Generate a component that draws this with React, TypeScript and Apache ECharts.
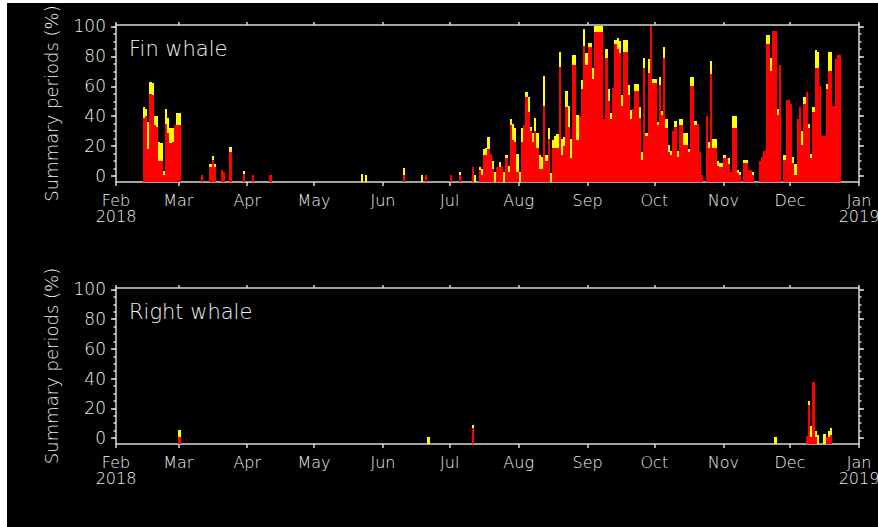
import React, { useEffect, useRef } from "react";
import * as echarts from "echarts";

// Day index counted from 1 Feb 2018 (day 0) to 1 Jan 2019 (day 334)
const monthTicks = [0, 28, 59, 89, 120, 150, 181, 212, 242, 273, 303, 334];
const monthLabels = ["Feb\n2018", "Mar", "Apr", "May", "Jun", "Jul", "Aug", "Sep", "Oct", "Nov", "Dec", "Jan\n2019"];
const yMajorTicks = [0, 20, 40, 60, 80, 100];
const yMinorTicks = [0, 5, 10, 15, 20, 25, 30, 35, 40, 45, 50, 55, 60, 65, 70, 75, 80, 85, 90, 95, 100];
const panelTitles = ["Fin whale", "Right whale"];
const yTitle = "Summary periods (%)";

// Fin whale: day index, red part (%), yellow part (%)
const finDay = [
  12, 13, 14, 15, 16, 17, 18, 19, 20, 21, 22, 23, 24, 25, 26, 27,
  28, 38, 42, 43, 44, 47, 48, 51, 57,
  61, 69,
  110, 112,
  129, 137, 139,
  150, 154, 160, 161, 163, 164, 165, 166, 167, 168, 169, 170, 171, 172, 173, 174, 175, 176, 177, 178, 179, 180,
  181, 182, 183, 184, 185, 186, 187, 188, 189, 190, 191, 192, 193, 194, 195, 196, 197, 198, 199, 200, 201, 202, 203, 204, 205, 206, 207, 208, 209, 210, 211,
  212, 213, 214, 215, 216, 217, 218, 219, 220, 221, 222, 223, 224, 225, 226, 227, 228, 229, 230, 231, 232, 233, 234, 235, 236, 237, 238, 239, 240, 241,
  242, 243, 244, 245, 246, 247, 248, 249, 250, 251, 252, 253, 254, 255, 256, 257, 258, 259, 260, 261, 262, 263, 265, 266, 267, 268, 269, 270, 271, 272,
  273, 274, 275, 276, 277, 278, 279, 280, 282, 283, 284, 285, 286, 289, 290, 291, 292, 293, 294, 295, 296, 297, 298, 300, 301, 302,
  303, 304, 305, 306, 307, 308, 309, 310, 311, 312, 313, 314, 315, 316, 317, 318, 319, 320, 321, 322, 323, 324, 325,
];
const finRed = [
  39, 40, 18, 55, 54, 34, 33, 10, 10, 0.5, 35, 29, 22, 23, 34, 34,
  34, 1, 6, 11, 6, 4, 3, 16, 1.5,
  1, 1,
  0, 0,
  0.5, 0, 1,
  0.5, 0.5, 6, 0, 4, 0.5, 14, 14, 18, 15, 5, 0, 6, 6, 7, 0, 12, 3, 34, 24, 23, 3,
  0, 23, 34, 53, 43, 30, 23, 30, 19, 5, 5, 47, 10, 25, 0, 19, 19, 19, 73, 14, 20, 46, 33, 12, 74, 74, 24, 40, 58, 87, 74,
  86, 86, 65, 96, 96, 96, 96, 38, 79, 50, 38, 59, 88, 85, 82, 47, 83, 83, 54, 38, 45, 57, 57, 39, 11, 72, 27, 69, 100, 62,
  62, 34, 61, 41, 79, 32, 16, 14, 30, 33, 13, 34, 34, 21, 21, 16, 60, 60, 34, 35, 16, 0.5, 40, 19, 68, 19, 19, 7, 6, 6,
  12, 12, 8, 3, 32, 32, 2, 1, 9, 9, 4, 4, 0.5, 10, 13, 17, 88, 88, 70, 97, 97, 41, 74, 11, 51, 51,
  48, 9, 1, 38, 46, 21, 48, 56, 32, 12, 43, 72, 72, 60, 27, 27, 58, 70, 70, 47, 78, 81, 81,
];
const finYellow = [
  7, 5, 18, 8, 8, 6, 7, 13, 12, 3, 10, 10, 10, 9, 0, 8,
  8, 0, 2, 2.5, 2, 0, 0, 3.5, 2,
  0, 0,
  1.5, 0.5,
  5, 0.5, 0,
  0, 2, 0, 1, 2, 4, 4, 5, 8, 0, 5, 3, 0, 3.5, 0, 3, 2, 4, 4, 11, 9, 12,
  3, 9, 0, 3, 10, 3, 6, 9, 10, 9, 8, 20, 4, 7, 2, 5, 8, 9, 10, 11, 6, 11, 14, 13, 7, 7, 17, 0, 6, 11, 8,
  3, 3, 7, 4, 4, 4, 4, 0, 6, 8, 4, 0, 3, 7, 8, 7, 8, 8, 7, 6, 0, 4.5, 4.5, 7, 5, 7, 2, 9, 0, 3,
  3, 2, 5, 2.5, 7, 6, 5, 3, 0, 4, 3.5, 4, 4, 8, 8, 2, 6, 6, 3, 0, 0, 0, 0, 4, 9, 6, 6, 3, 2.5, 2.5,
  2, 0, 4, 0, 8, 8, 2, 1.5, 2, 2, 0, 0, 2, 0, 0, 0, 6, 6, 9, 0, 0, 4, 0, 3, 0, 0,
  0, 4, 7, 0, 0, 9, 5, 0, 2.5, 3, 3, 12, 11, 0, 0, 0, 3.5, 13, 13, 0, 0, 0, 0,
];

// Right whale: day index, red part (%), yellow part (%)
const rightDay = [28, 140, 160, 296, 310, 311, 312, 313, 314, 315, 318, 319, 320, 321];
const rightRed = [0.5, 0, 7, 0, 1.5, 22, 1, 38, 0.5, 0, 0, 1, 0.5, 2];
const rightYellow = [5, 0.5, 1.5, 0.5, 0, 3, 7, 0, 4, 2, 3, 0, 4.5, 4.5];

const Y_MIN = -4;
const Y_MAX = 101;
const DAY_MIN = 0;
const DAY_MAX = 334;

const FG = "#d8d8d8";
const TXT = "#f0f0f0";
const FONT = "DejaVu Sans";

export default function App() {
  const ref = useRef<HTMLDivElement>(null);

  useEffect(() => {
    if (!ref.current) return;
    const chart = echarts.init(ref.current, undefined, { renderer: "svg" });

    const grids = [
      { left: 109, top: 22, width: 743, height: 157 },
      { left: 109, top: 285, width: 743, height: 156 },
    ];

    const xAxes: any[] = [];
    const yAxes: any[] = [];
    const line = { show: true, onZero: false, lineStyle: { color: FG, width: 1.5 } };

    grids.forEach((_, gi) => {
      const xBase = {
        gridIndex: gi,
        type: "value",
        min: DAY_MIN,
        max: DAY_MAX,
        splitLine: { show: false },
        axisLine: line,
      };
      xAxes.push({
        ...xBase,
        position: "bottom",
        axisTick: { show: true, inside: false, length: 4, customValues: monthTicks, lineStyle: { color: FG, width: 1.5 } },
        axisLabel: {
          show: true,
          customValues: monthTicks,
          formatter: (v: number) => {
            const i = monthTicks.indexOf(v);
            return i >= 0 ? monthLabels[i] : "";
          },
          margin: 10,
          color: TXT,
          fontFamily: FONT,
          fontWeight: 200,
          fontSize: 16,
          lineHeight: 16,
        },
      });
      xAxes.push({
        ...xBase,
        position: "top",
        axisTick: { show: true, inside: false, length: 3, customValues: monthTicks, lineStyle: { color: FG, width: 1.5 } },
        axisLabel: { show: false },
      });

      const yBase = {
        gridIndex: gi,
        type: "value",
        min: Y_MIN,
        max: Y_MAX,
        splitLine: { show: false },
      };
      yAxes.push({
        ...yBase,
        position: "left",
        name: yTitle,
        nameLocation: "middle",
        nameRotate: 90,
        nameGap: 56,
        nameTextStyle: { color: TXT, fontFamily: FONT, fontWeight: 200, fontSize: 18 },
        axisLine: line,
        axisTick: { show: true, inside: false, length: 5, customValues: yMajorTicks, lineStyle: { color: FG, width: 1.5 } },
        axisLabel: { show: true, customValues: yMajorTicks, margin: 10, color: TXT, fontFamily: FONT, fontWeight: 200, fontSize: 17 },
      });
      yAxes.push({
        ...yBase,
        position: "left",
        axisLine: { show: false, onZero: false },
        axisTick: { show: true, inside: false, length: 2.5, customValues: yMinorTicks, lineStyle: { color: FG, width: 1.5 } },
        axisLabel: { show: false },
      });
      yAxes.push({
        ...yBase,
        position: "right",
        axisLine: line,
        axisTick: { show: true, inside: false, length: 5, customValues: yMajorTicks, lineStyle: { color: FG, width: 1.5 } },
        axisLabel: { show: false },
      });
      yAxes.push({
        ...yBase,
        position: "right",
        axisLine: { show: false, onZero: false },
        axisTick: { show: true, inside: false, length: 2.5, customValues: yMinorTicks, lineStyle: { color: FG, width: 1.5 } },
        axisLabel: { show: false },
      });
    });

    const renderBars = (_params: any, api: any) => {
      const d = api.value(0) as number;
      const r = api.value(1) as number;
      const yv = api.value(2) as number;
      const xL = Math.round(api.coord([d, Y_MIN])[0]);
      const xR = Math.round(api.coord([d + 1, Y_MIN])[0]);
      const yB = Math.round(api.coord([d, Y_MIN])[1]);
      const children: any[] = [];
      let yR = yB;
      if (r > 0) {
        yR = Math.round(api.coord([d, r])[1]);
        children.push({ type: "rect", shape: { x: xL, y: yR, width: xR - xL, height: yB - yR }, style: { fill: "#ff0000" } });
      }
      if (yv > 0) {
        const yT = Math.round(api.coord([d, Math.max(r, 0) + yv])[1]);
        children.push({ type: "rect", shape: { x: xL, y: yT, width: xR - xL, height: yR - yT }, style: { fill: "#ffff00" } });
      }
      return { type: "group", children };
    };

    const finData = finDay.map((d, i) => [d, finRed[i], finYellow[i]]);
    const rightData = rightDay.map((d, i) => [d, rightRed[i], rightYellow[i]]);

    chart.setOption({
      animation: false,
      backgroundColor: "#000000",
      grid: grids.map((g) => ({ ...g, containLabel: false, outerBoundsMode: "none" })),
      xAxis: xAxes,
      yAxis: yAxes,
      graphic: [
        { type: "text", x: 122, y: 35, style: { text: panelTitles[0], fill: TXT, fontFamily: FONT, fontWeight: 200, fontSize: 21, verticalAlign: "top" } },
        { type: "text", x: 122, y: 298, style: { text: panelTitles[1], fill: TXT, fontFamily: FONT, fontWeight: 200, fontSize: 21, verticalAlign: "top" } },
      ],
      series: [
        { type: "custom", xAxisIndex: 0, yAxisIndex: 0, renderItem: renderBars, encode: { x: 0, y: 1 }, data: finData, clip: true },
        { type: "custom", xAxisIndex: 2, yAxisIndex: 4, renderItem: renderBars, encode: { x: 0, y: 1 }, data: rightData, clip: true },
      ],
    });

    return () => chart.dispose();
  }, []);

  return (
    <div style={{ position: "fixed", left: 0, top: 0, width: 878, height: 527, background: "#ffffff", overflow: "hidden" }}>
      <div ref={ref} style={{ position: "absolute", left: 7, top: 3, width: 871, height: 524 }} />
    </div>
  );
}
